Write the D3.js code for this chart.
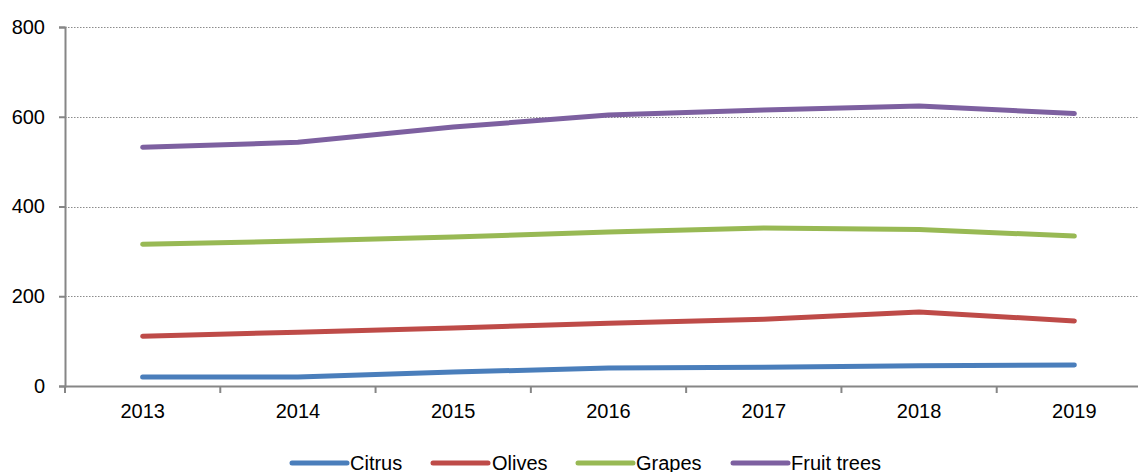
<!DOCTYPE html>
<html><head><meta charset="utf-8">
<script src="https://cdn.jsdelivr.net/npm/d3@7"></script>
<style>body{margin:0;background:#fff;} svg{display:block;font-family:"Liberation Sans",Arial,sans-serif;}</style>
</head><body>
<svg id="c" width="1138" height="472"></svg>
<script>
const categories = ["2013","2014","2015","2016","2017","2018","2019"];
const citrus = [20, 20, 31, 40, 42, 45, 47];
const olives = [111, 120, 129, 140, 149, 165, 145];
const grapes = [316, 323, 332, 343, 352, 349, 334];
const fruitTrees = [532, 543, 577, 604, 615, 624, 607];
const seriesNames = ["Citrus","Olives","Grapes","Fruit trees"];
const seriesColors = ["#4a7ebb","#be4b48","#98b954","#7d60a0"];
const yTicks = [0, 200, 400, 600, 800];

const series = [citrus, olives, grapes, fruitTrees].map((v,i)=>({name:seriesNames[i], color:seriesColors[i], values:v}));

const svg = d3.select("#c");
const mLeft = 65, mRight = 1152, mTop = 27, mBottom = 386;
const x = d3.scaleBand().domain(categories).range([mLeft, mRight]);
const y = d3.scaleLinear().domain([0, 800]).range([mBottom, mTop]);

// gridlines
svg.append("g").selectAll("line").data(yTicks.filter(d=>d>0)).join("line")
  .attr("x1", mLeft).attr("x2", 1138)
  .attr("y1", d=>Math.round(y(d))+0.5).attr("y2", d=>Math.round(y(d))+0.5)
  .attr("stroke", "#8c8c8c").attr("stroke-width", 1.2).attr("stroke-dasharray", "1.5,1.5");

// y axis
const ya = svg.append("g").attr("transform", `translate(${mLeft},0)`)
  .call(d3.axisLeft(y).tickValues(yTicks).tickSize(6).tickPadding(14));
ya.select(".domain").attr("stroke", "#868686").attr("stroke-width", 2);
ya.selectAll(".tick line").attr("stroke", "#868686").attr("stroke-width", 2);
ya.selectAll("text").attr("font-size", 20).attr("fill", "#000").attr("font-family", "Liberation Sans, Arial, sans-serif");

// x axis
const xa = svg.append("g").attr("transform", `translate(0,${mBottom})`)
  .call(d3.axisBottom(x).tickSize(0).tickPadding(18));
xa.select(".domain").attr("stroke", "#868686").attr("stroke-width", 2);
xa.selectAll("text").attr("font-size", 20).attr("fill", "#000").attr("font-family", "Liberation Sans, Arial, sans-serif");
const bounds = categories.map(c => x(c)).concat([x(categories[categories.length-1]) + x.bandwidth()]);
xa.append("g").selectAll("line").data(bounds).join("line")
  .attr("x1", d=>d).attr("x2", d=>d).attr("y1", 0).attr("y2", 7)
  .attr("stroke", "#868686").attr("stroke-width", 2);

// lines
const line = d3.line().x((d,i)=>x(categories[i]) + x.bandwidth()/2).y(d=>y(d));
svg.append("g").selectAll("path").data(series).join("path")
  .attr("d", d=>line(d.values)).attr("fill", "none")
  .attr("stroke", d=>d.color).attr("stroke-width", 5)
  .attr("stroke-linecap", "round").attr("stroke-linejoin", "round");

// legend
const legendItems = [
  {x: 292, tx: 350},
  {x: 433, tx: 492},
  {x: 578, tx: 636},
  {x: 733, tx: 791}
];
const lg = svg.append("g");
series.forEach((s,i)=>{
  const L = legendItems[i];
  lg.append("line").attr("x1", L.x).attr("x2", L.x+55).attr("y1", 463).attr("y2", 463)
    .attr("stroke", s.color).attr("stroke-width", 5).attr("stroke-linecap", "round");
  lg.append("text").attr("x", L.tx).attr("y", 470).attr("font-size", 20).attr("fill", "#000")
    .text(s.name);
});
</script>
</body></html>
